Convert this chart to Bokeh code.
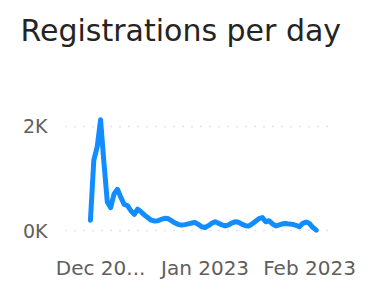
from datetime import datetime, timedelta
from bokeh.plotting import figure
from bokeh.models import Range1d, FixedTicker, ColumnDataSource, Title
from bokeh.embed import file_html
from bokeh.resources import INLINE

# ---- data ----
start_date = datetime(2022, 11, 28)
registrations = [200, 1350, 1600, 2120, 1300, 550, 440, 700, 790, 640,
                 500, 480, 380, 310, 410, 360, 300, 250, 200, 185,
                 190, 215, 235, 230, 190, 150, 120, 105, 115, 130,
                 145, 155, 120, 75, 60, 95, 140, 170, 140, 110,
                 90, 110, 150, 170, 160, 120, 95, 90, 130, 180,
                 230, 250, 170, 190, 130, 90, 110, 130, 135, 125,
                 120, 100, 75, 140, 165, 135, 60, 10]
dates = [start_date + timedelta(days=i) for i in range(len(registrations))]

x_tick_dates = [datetime(2022, 12, 1), datetime(2023, 1, 1), datetime(2023, 2, 1)]
x_tick_labels = ["Dec 20...", "Jan 2023", "Feb 2023"]
y_ticks = [0, 2000]
y_tick_labels = ["0K", "2K"]

title_text = "Registrations per day"

def ms(d):
    return (d - datetime(1970, 1, 1)).total_seconds() * 1000.0

src = ColumnDataSource(dict(date=dates, value=registrations))

FONT = "DejaVu Sans"
day = 86400000.0
x0 = ms(datetime(2022, 12, 1))
p = figure(width=357, height=282, output_backend="svg", toolbar_location=None,
           x_axis_type="datetime",
           x_range=Range1d(x0 - 10.4 * day, x0 + 69.7 * day),
           y_range=Range1d(-131, 2392),
           min_border_left=65, min_border_right=22, min_border_top=105,
           min_border_bottom=42, background_fill_color="white",
           border_fill_color="white", outline_line_color=None)

# main title (outermost)
p.title.text = title_text
p.title.text_font = FONT
p.title.text_font_size = "30px"
p.title.text_font_style = "normal"
p.title.text_color = "#252423"
p.title.align = "left"
p.title.vertical_align = "top"
p.title.offset = -45
p.title.standoff = 22

# empty spacer between title and plot area
spacer = Title(text=" ", text_font=FONT, text_font_size="10px", standoff=32)
p.add_layout(spacer, "above")

p.line("date", "value", source=src, line_color="#118DFF", line_width=5,
       line_join="round", line_cap="round")

p.xaxis.ticker = FixedTicker(ticks=[ms(d) for d in x_tick_dates])
p.xaxis.major_label_overrides = {ms(d): lab for d, lab in zip(x_tick_dates, x_tick_labels)}
p.yaxis.ticker = FixedTicker(ticks=y_ticks)
p.yaxis.major_label_overrides = {t: lab for t, lab in zip(y_ticks, y_tick_labels)}

for ax in (p.xaxis, p.yaxis):
    ax.axis_line_color = None
    ax.major_tick_line_color = None
    ax.minor_tick_line_color = None
    ax.major_tick_out = 0
    ax.major_tick_in = 0
    ax.minor_tick_out = 0
    ax.minor_tick_in = 0
    ax.major_label_text_font = FONT
    ax.major_label_text_color = "#605E5C"
p.xaxis.major_label_text_font_size = "20px"
p.yaxis.major_label_text_font_size = "19px"
p.xaxis.major_label_standoff = 18
p.yaxis.major_label_standoff = 18

p.xgrid.grid_line_color = None
p.ygrid.ticker = FixedTicker(ticks=y_ticks)
p.ygrid.grid_line_color = "#C8C6C4"
p.ygrid.grid_line_dash = "1 8"
p.ygrid.grid_line_width = 1.5

html = file_html(p, INLINE)
open("out.html", "w").write(html)
